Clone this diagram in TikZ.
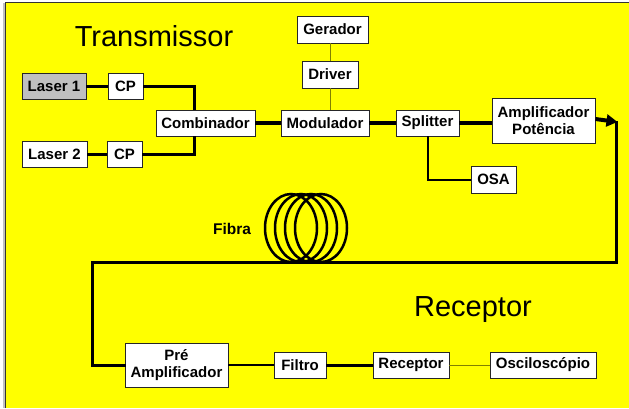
\documentclass[tikz,border=0pt]{standalone}
\usepackage{fontspec}
\setmainfont{Liberation Sans}
\usetikzlibrary{arrows.meta}
\definecolor{bgyellow}{HTML}{FFFF00}
\definecolor{lgray}{HTML}{C0C0C0}
\definecolor{olivel}{HTML}{808000}
\begin{document}
\begin{tikzpicture}[x=1pt,y=-1pt,
  blk/.style={draw=black!85,line width=0.9pt,fill=white,inner sep=0pt,
    font=\fontsize{15}{17.5}\selectfont\bfseries,align=center},
  thk/.style={line width=3pt},
  vthk/.style={line width=4pt},
  med/.style={line width=2pt},
  thn/.style={line width=1pt,draw=olivel}]
\useasboundingbox (0,0) rectangle (629,408);
\fill[white] (0,0) rectangle (629,408);
\fill[lgray] (3,3) rectangle (5,408);
\fill[bgyellow] (5,2) rectangle (629,408);
\draw[line width=1pt,black!80] (5.5,408) -- (5.5,2.5) -- (629,2.5);

% titles
\node[font=\fontsize{29}{32}\selectfont] (ttx) at (154,36) {Transmissor};
\node[font=\fontsize{29}{32}\selectfont] (trx) at (473,310) {Receptor};
\node[font=\fontsize{15.5}{17}\selectfont\bfseries] (tfib) at (232,229) {Fibra};

% boxes
\node[blk,fill=lgray,minimum width=64pt,minimum height=26pt] (laser1) at (54,86) {Laser 1};
\node[blk,minimum width=35pt,minimum height=26pt] (cp1) at (125.5,86) {CP};
\node[blk,minimum width=65pt,minimum height=26pt] (laser2) at (54.5,154) {Laser 2};
\node[blk,minimum width=35pt,minimum height=26pt] (cp2) at (124.5,154) {CP};
\node[blk,minimum width=99pt,minimum height=26pt] (comb) at (205.5,123) {Combinador};
\node[blk,minimum width=88pt,minimum height=26pt] (mod) at (325,123) {Modulador};
\node[blk,minimum width=71pt,minimum height=27pt] (ger) at (332.5,29.5) {Gerador};
\node[blk,minimum width=56pt,minimum height=27pt] (drv) at (330,74.5) {Driver};
\node[blk,minimum width=63pt,minimum height=26pt] (spl) at (427.5,123) {Splitter};
\node[blk,minimum width=103pt,minimum height=45pt] (amp) at (543.5,120.5) {Amplificador\\Potência};
\node[blk,minimum width=45pt,minimum height=27pt] (osa) at (493.5,179.5) {OSA};
\node[blk,minimum width=103pt,minimum height=44pt] (pre) at (176.5,365) {Pré\\Amplificador};
\node[blk,minimum width=52pt,minimum height=26pt] (fil) at (300,365) {Filtro};
\node[blk,minimum width=76pt,minimum height=26pt] (rec) at (411,365) {Receptor};
\node[blk,minimum width=106pt,minimum height=26pt] (osc) at (543,365) {Osciloscópio};

% transmitter connections
\draw[thk] (laser1.east) -- (cp1.west);
\draw[thk] (laser2.east) -- (cp2.west);
\draw[thk] (cp1.east) -| ([xshift=-11.5pt]comb.north);
\draw[thk] (cp2.east) -| ([xshift=-11.5pt]comb.south);
\draw[vthk] (comb.east) -- (mod.west);
\draw[vthk] (mod.east) -- (spl.west);
\draw[vthk] (spl.east) -- (spl.east -| amp.west);
\draw[thn] (drv.north) -- (drv.north |- ger.south);
\draw[thn] (drv.south) -- (drv.south |- mod.north);
\draw[med] (spl.south) |- (osa.west);

% fibre loop
\coordinate (cr) at (616,122);
\coordinate (cb) at (616,262);
\coordinate (cl) at (92,262);
\draw[vthk,-{Triangle[length=11pt,width=12pt]}] ([yshift=1.5pt]amp.east) -- ([xshift=1.5pt]cr);
\draw[thk,line cap=rect] (cr) -- (cb) -- (cl) |- (pre.west);
\foreach \cx in {291,301,311,321}
  \draw[line width=2.5pt] (\cx,228) ellipse (26 and 34);

% receiver connections
\draw[med] (pre.east) -- (fil.west);
\draw[thk] (fil.east) -- (rec.west);
\draw[thn] (rec.east) -- (osc.west);
\end{tikzpicture}
\end{document}
